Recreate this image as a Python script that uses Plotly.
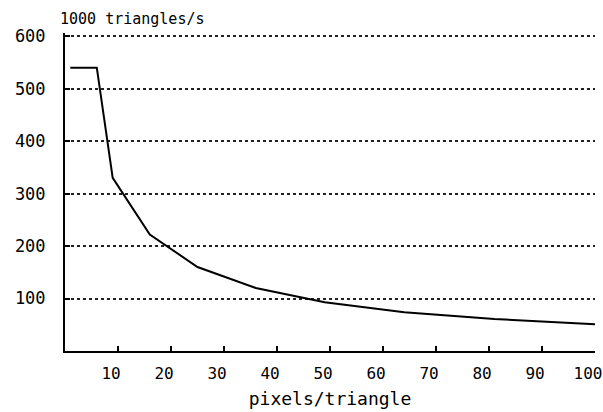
import plotly.graph_objects as go

pixels_per_triangle = [1, 6, 9, 16, 25, 36, 49, 64, 81, 100]
ktriangles_per_s = [540, 540, 330, 222, 160, 120, 93, 74, 61, 51]

x_ticks = [10, 20, 30, 40, 50, 60, 70, 80, 90, 100]
y_ticks = [100, 200, 300, 400, 500, 600]

FONT = "DejaVu Sans Mono"

fig = go.Figure()
fig.add_trace(go.Scatter(
    x=pixels_per_triangle, y=ktriangles_per_s, mode="lines",
    line=dict(color="black", width=2), showlegend=False, hoverinfo="skip",
))

fig.update_layout(
    width=603, height=412,
    margin=dict(l=65, r=8, t=33, b=61),
    paper_bgcolor="white", plot_bgcolor="white",
    font=dict(family=FONT, size=17, color="black"),
    xaxis=dict(
        range=[0, 100], tickmode="array", tickvals=x_ticks,
        ticktext=[str(v) for v in x_ticks],
        tickfont=dict(family=FONT, size=16),
        ticks="inside", ticklen=5, tickwidth=1.5, tickcolor="black",
        showline=True, linecolor="black", linewidth=2,
        showgrid=False, zeroline=False, ticklabelstandoff=7,
        ticklabelshift=-7, ticklabeloverflow="allow",
        automargin=False,
        title=dict(text="pixels/triangle", standoff=10,
                   font=dict(family=FONT, size=18)),
    ),
    yaxis=dict(
        range=[0, 606], tickmode="array", tickvals=y_ticks,
        ticktext=[str(v) for v in y_ticks],
        ticks="inside", ticklen=5, tickwidth=1.5, tickcolor="black",
        showline=True, linecolor="black", linewidth=2,
        showgrid=True, gridcolor="#222222", gridwidth=1.5, griddash="dot",
        zeroline=False, ticklabelstandoff=14, automargin=False,
        ticklabeloverflow="allow",
    ),
    annotations=[dict(
        text="1000 triangles/s", xref="paper", yref="paper",
        x=0, y=1 + 14 / 318, xanchor="left", yanchor="middle",
        showarrow=False, font=dict(family=FONT, size=15, color="black"),
        xshift=-6, borderpad=0,
    )],
)

fig.write_html(
    "out.html",
    config={"displayModeBar": False},
    post_script="document.body.style.margin='0';document.body.style.overflow='hidden';",
)
